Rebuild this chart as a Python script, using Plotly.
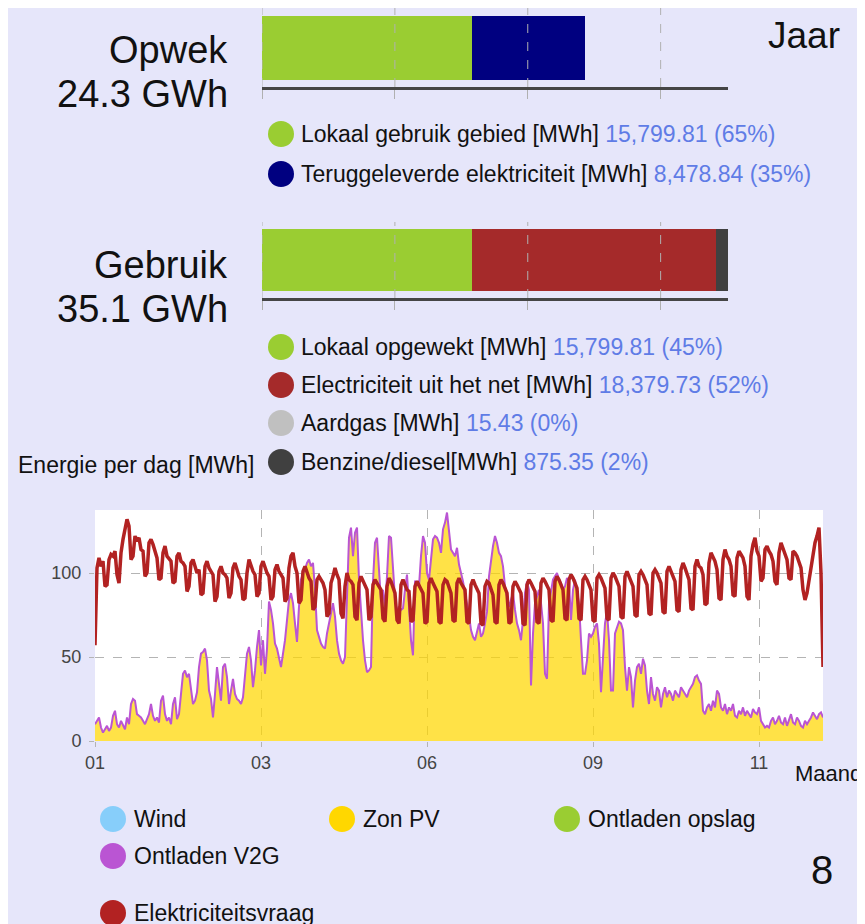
import plotly.graph_objects as go

W, H = 865, 924
FONT = "Liberation Sans, Arial, sans-serif"
BG = "#e6e6fa"
VALUE_BLUE = "#5f7ce6"

# jaaroverzicht [MWh]
opwek_labels = ["Lokaal gebruik gebied [MWh]", "Teruggeleverde elektriciteit [MWh]"]
opwek_values = [15799.81, 8478.84]
opwek_colors = ["#9acd32", "#000080"]

gebruik_labels = ["Lokaal opgewekt [MWh]", "Electriciteit uit het net [MWh]",
                  "Aardgas [MWh]", "Benzine/diesel[MWh]"]
gebruik_values = [15799.81, 18379.73, 15.43, 875.35]
gebruik_colors = ["#9acd32", "#a52a2a", "#c0c0c0", "#404040"]

bar_ticks = [0, 10000, 20000, 30000]

# energie per dag [MWh], 1 waarde per dag
month_ticks = [0, 83, 166, 249, 332]
month_labels = ["01", "03", "06", "09", "11"]

vraag = [
    57, 103, 109, 104, 107, 92, 93,
    108, 111, 110, 113, 99, 94, 112,
    120, 126, 132, 128, 108, 110, 122,
    119, 121, 114, 113, 98, 100, 118,
    120, 117, 112, 109, 96, 97, 112,
    116, 110, 108, 107, 94, 95, 110,
    112, 107, 106, 104, 89, 92, 106,
    108, 104, 100, 102, 87, 88, 104,
    107, 103, 101, 99, 83, 86, 101,
    104, 100, 99, 97, 85, 88, 103,
    106, 101, 98, 96, 84, 85, 100,
    108, 104, 101, 99, 86, 88, 104,
    107, 103, 100, 98, 84, 86, 102,
    105, 101, 99, 97, 83, 85, 103,
    110, 112, 104, 100, 82, 84, 101,
    104, 100, 97, 95, 78, 80, 96,
    98, 96, 94, 90, 74, 76, 94,
    98, 103, 99, 96, 76, 73, 92,
    100, 96, 95, 93, 74, 72, 94,
    98, 95, 93, 90, 72, 74, 93,
    96, 94, 92, 90, 73, 71, 92,
    97, 95, 91, 88, 72, 70, 93,
    96, 93, 90, 89, 71, 72, 92,
    95, 93, 91, 88, 70, 71, 94,
    97, 94, 92, 89, 71, 70, 93,
    96, 95, 91, 88, 72, 71, 94,
    97, 94, 92, 90, 71, 70, 93,
    96, 93, 91, 88, 70, 69, 92,
    95, 94, 90, 87, 71, 70, 93,
    96, 94, 91, 88, 70, 71, 92,
    95, 93, 90, 88, 70, 69, 93,
    96, 94, 92, 89, 71, 70, 94,
    97, 95, 92, 90, 72, 71, 95,
    98, 96, 93, 90, 73, 72, 96,
    99, 97, 94, 91, 73, 72, 96,
    98, 96, 93, 90, 72, 71, 97,
    99, 97, 94, 91, 73, 72, 97,
    100, 98, 95, 92, 74, 73, 98,
    101, 98, 95, 92, 75, 74, 99,
    101, 99, 96, 93, 76, 75, 100,
    102, 100, 97, 94, 77, 76, 101,
    104, 101, 98, 95, 78, 77, 102,
    106, 103, 100, 96, 79, 78, 104,
    108, 104, 103, 99, 81, 82, 106,
    112, 110, 107, 102, 85, 84, 108,
    114, 110, 108, 104, 87, 86, 109,
    113, 111, 109, 104, 86, 84, 110,
    117, 121, 113, 110, 95, 97, 114,
    116, 113, 111, 107, 95, 93, 112,
    118, 115, 112, 108, 97, 96, 113,
    112, 110, 107, 103, 90, 84, 88,
    96, 104, 112, 118, 122, 127, 100,
    44,
]

zon_pv = [
    10, 12, 14, 8, 5, 7, 9,
    6, 8, 15, 18, 10, 8, 12,
    9, 7, 14, 10, 22, 25, 24,
    16, 15, 14, 12, 10, 13, 16,
    22, 15, 12, 14, 11, 24, 27,
    16, 12, 14, 10, 22, 26, 13,
    16, 28, 40, 42, 38, 40, 30,
    22, 24, 29, 44, 52, 53, 55,
    48, 30, 25, 14, 28, 44, 34,
    24, 44, 46, 38, 22, 30, 37,
    28, 25, 24, 22, 26, 42, 52,
    56, 48, 32, 42, 56, 66, 45,
    60, 40, 55, 83, 78, 70, 58,
    55, 50, 44, 52, 60, 72, 84,
    88, 82, 70, 59, 80, 96, 100,
    102, 106, 108, 104, 106, 90, 66,
    62, 58, 56, 55, 64, 71, 76,
    82, 74, 60, 52, 48, 46, 50,
    88, 121, 127, 110, 124, 127, 96,
    77, 60, 48, 41, 42, 44, 95,
    118, 121, 100, 83, 90, 80, 98,
    122, 121, 105, 85, 76, 80, 78,
    79, 90, 99, 80, 60, 51, 95,
    95, 92, 110, 122, 118, 100, 96,
    108, 120, 122, 121, 118, 112, 126,
    130, 136, 124, 114, 112, 110, 115,
    105, 100, 95, 88, 82, 75, 66,
    62, 60, 66, 70, 62, 64, 70,
    77, 98, 108, 116, 122, 118, 112,
    110, 104, 92, 86, 80, 84, 88,
    78, 70, 66, 60, 72, 88, 95,
    90, 33, 64, 82, 86, 90, 82,
    70, 40, 37, 82, 88, 96, 98,
    100, 96, 94, 90, 92, 97, 95,
    72, 90, 96, 88, 82, 60, 40,
    40, 48, 64, 62, 64, 68, 70,
    58, 29, 50, 70, 77, 60, 30,
    30, 64, 68, 71, 70, 66, 44,
    30, 44, 38, 20, 36, 44, 46,
    40, 49, 45, 30, 22, 38, 28,
    24, 32, 30, 20, 28, 32, 26,
    30, 28, 24, 30, 28, 26, 32,
    30, 28, 26, 30, 32, 34, 38,
    39, 36, 34, 18, 16, 20, 22,
    18, 24, 20, 30, 28, 20, 18,
    22, 16, 20, 18, 22, 15, 14,
    18, 16, 20, 15, 18, 16, 14,
    19, 17, 16, 20, 12, 10, 8,
    9, 8, 12, 14, 10, 12, 15,
    11, 10, 14, 9, 12, 16, 11,
    10, 14, 12, 9, 8, 12, 10,
    12, 14, 17, 15, 13, 16, 17,
    14,
]

legend_names = ["Wind", "Zon PV", "Ontladen opslag", "Ontladen V2G", "Elektriciteitsvraag"]
legend_colors = ["#87cefa", "#ffd700", "#9acd32", "#ba55d3", "#b22222"]


# pixelpositie in de pagina -> paper-coördinaat (pagina heeft 8px body-marge)
def px(x):
    return (x - 8) / W


def py(y):
    return 1 - (y - 8) / H


fig = go.Figure()

# twee gestapelde jaarbalken
for vals, cols, xa, ya in [(opwek_values, opwek_colors, "x2", "y2"),
                           (gebruik_values, gebruik_colors, "x3", "y3")]:
    for v, c in zip(vals, cols):
        fig.add_trace(go.Bar(x=[v], y=[0], orientation="h", width=0.81,
                             marker=dict(color=c, line_width=0),
                             xaxis=xa, yaxis=ya, showlegend=False, hoverinfo="x"))

# dagwaarden (paarse lijn = bovenrand van de gestapelde opwek)
fig.add_trace(go.Scatter(
    x=list(range(len(zon_pv))), y=zon_pv, mode="lines", fill="tozeroy",
    fillcolor="rgba(255,215,0,0.72)", line=dict(color="#ba55d3", width=2),
    name="Zon PV", showlegend=False))
fig.add_trace(go.Scatter(
    x=list(range(len(vraag))), y=vraag, mode="lines",
    line=dict(color="#b22222", width=3.5), name="Elektriciteitsvraag", showlegend=False))

bar_max = max(sum(opwek_values), sum(gebruik_values))
bar_x = dict(range=[0, bar_max], tickvals=bar_ticks, showticklabels=False,
             showgrid=False, zeroline=False, ticks="outside", ticklen=9,
             tickcolor="#b0b0b0", showline=True, linecolor="#454545", linewidth=3,
             domain=[px(262), px(728)], fixedrange=True, automargin=False)
bar_y = dict(range=[-0.5, 0.5], visible=False, fixedrange=True, automargin=False)

grid = dict(showgrid=True, gridcolor="#b4b4b4", griddash="dash", gridwidth=1,
            zeroline=False, ticks="outside", ticklen=5, tickcolor="#b4b4b4",
            automargin=False, tickfont=dict(size=18, color="#444", family=FONT))

fig.update_layout(
    width=W, height=H, margin=dict(l=0, r=0, t=0, b=0, pad=0), autosize=False,
    paper_bgcolor=BG, plot_bgcolor=BG, barmode="stack",
    font=dict(family=FONT, color="#111"),
    xaxis=dict(domain=[px(95), px(823)], range=[0, len(vraag) - 1],
               tickvals=month_ticks, ticktext=month_labels, anchor="y", **grid),
    yaxis=dict(domain=[py(741), py(510)], range=[0, 137.5], tickvals=[0, 50, 100],
               anchor="x", ticklabelstandoff=4, **grid),
    xaxis2=dict(anchor="y2", **bar_x),
    yaxis2=dict(domain=[py(87), py(8)], anchor="x2", **bar_y),
    xaxis3=dict(anchor="y3", **bar_x),
    yaxis3=dict(domain=[py(298), py(222)], anchor="x3", **bar_y),
)

shapes = [dict(type="rect", xref="x domain", yref="y domain", x0=0, x1=1, y0=0, y1=1,
               fillcolor="white", line_width=0, layer="below")]
# stippellijnen over de balken
for xa, ya in [("x2", "y2"), ("x3", "y3")]:
    for t in bar_ticks:
        shapes.append(dict(type="line", xref=xa, yref=ya + " domain", x0=t, x1=t,
                           y0=0, y1=1, line=dict(color="#b0b0b0", width=1, dash="dash"),
                           layer="above"))

ann = []


def text(x, y, s, size, anchor="left", color="#111"):
    ann.append(dict(x=px(x), y=py(y), xref="paper", yref="paper", text=s,
                    showarrow=False, xanchor=anchor, yanchor="middle",
                    font=dict(size=size, color=color, family=FONT)))


def dot(x, y, color, r=13):
    shapes.append(dict(type="circle", xref="paper", yref="paper",
                       x0=px(x - r), x1=px(x + r), y0=py(y + r), y1=py(y - r),
                       fillcolor=color, line_width=0))


tot_o = sum(opwek_values)
tot_g = sum(gebruik_values)
text(230, 50, "Opwek", 38, "right")
text(230, 94, f"{tot_o / 1000:.1f} GWh", 38, "right")
text(230, 265, "Gebruik", 38, "right")
text(230, 309, f"{tot_g / 1000:.1f} GWh", 38, "right")
text(766, 35, "Jaar", 37)

for rows, labels, vals, cols, tot in [([134, 174], opwek_labels, opwek_values, opwek_colors, tot_o),
                                      ([347, 385, 423, 462], gebruik_labels, gebruik_values,
                                       gebruik_colors, tot_g)]:
    for y, lab, v, c in zip(rows, labels, vals, cols):
        dot(281, y, c)
        text(299, y, f'{lab} <span style="color:{VALUE_BLUE}">{v:,.2f} ({v / tot * 100:.0f}%)</span>', 23)

text(16, 465, "Energie per dag [MWh]", 23)
text(793, 773, "Maand", 22)
text(822, 870, "8", 40, "center")

leg_pos = [(113, 819), (342, 819), (567, 819), (113, 856), (113, 913)]
for (x, y), name, c in zip(leg_pos, legend_names, legend_colors):
    dot(x, y, c)
    text(x + 19, y, name, 23)

fig.update_layout(shapes=shapes, annotations=ann)
fig.write_html("out.html")
